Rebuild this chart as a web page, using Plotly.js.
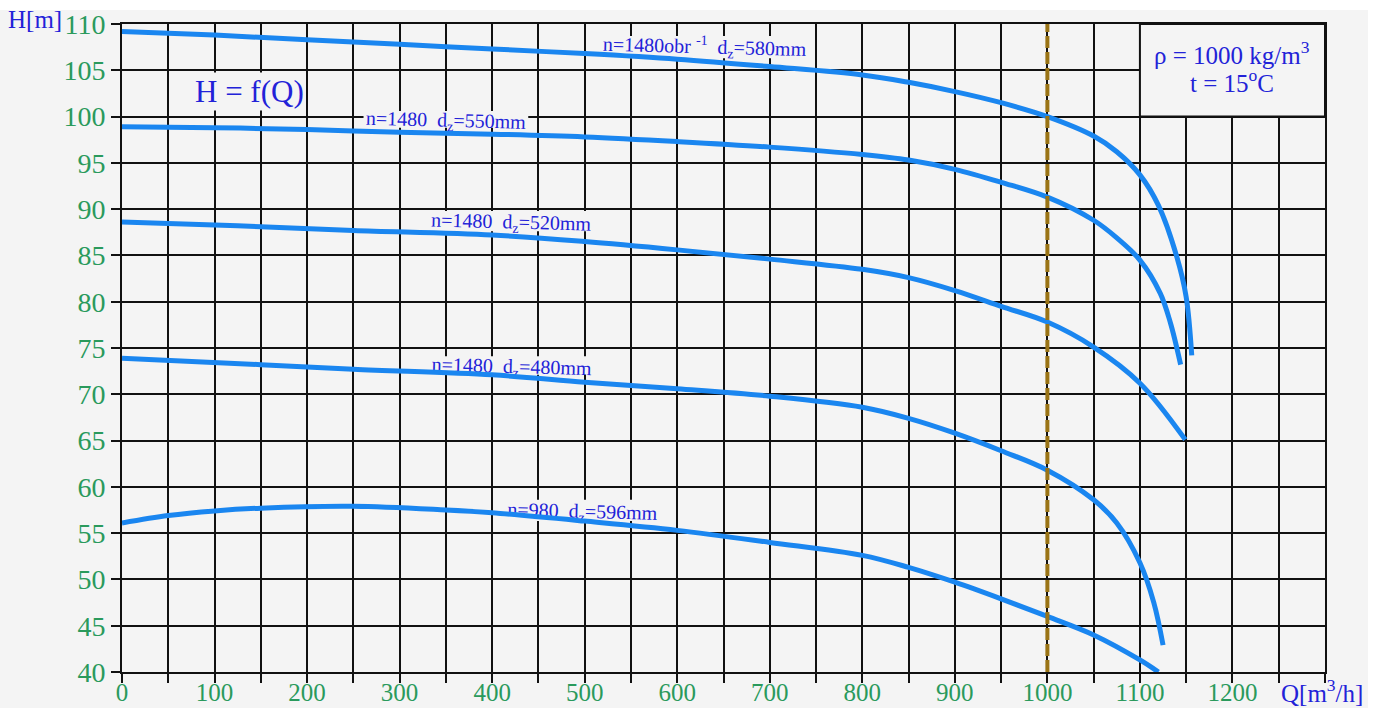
<!DOCTYPE html>
<html>
<head>
<meta charset="utf-8">
<script src="https://cdn.plot.ly/plotly-3.0.1.min.js"></script>
<style>html,body{margin:0;padding:0;background:#fff;}#chart{width:1381px;height:708px;}</style>
</head>
<body>
<div id="chart"></div>
<script>
// Data
var q580 = [0,100,200,300,400,500,600,700,800,850,900,950,1000,1050,1075,1100,1120,1140,1150,1156];
var h580 = [109.2,108.8,108.3,107.8,107.3,106.8,106.2,105.4,104.5,103.7,102.7,101.5,100.0,97.9,96.2,93.7,90.4,84.8,80.5,74.2];
var q550 = [0,100,200,300,400,500,600,700,800,850,900,950,1000,1050,1075,1100,1122,1133,1144];
var h550 = [98.9,98.8,98.6,98.3,98.1,97.8,97.3,96.7,95.9,95.3,94.3,92.9,91.3,88.8,86.9,84.5,80.9,77.7,73.2];
var q520 = [0,100,150,250,400,500,600,700,800,850,900,950,1000,1050,1100,1149];
var h520 = [88.6,88.3,88.1,87.7,87.2,86.5,85.6,84.6,83.5,82.6,81.2,79.5,77.8,75.1,71.2,65.1];
var q480 = [0,150,250,400,500,600,700,800,850,900,950,1000,1050,1075,1100,1115,1125];
var h480 = [73.9,73.2,72.7,72.1,71.3,70.6,69.8,68.6,67.4,65.8,63.9,61.8,58.6,56.1,51.8,47.5,42.9];
var q596 = [0,50,100,150,250,350,400,500,600,700,800,850,900,950,1000,1050,1100,1120];
var h596 = [56.1,56.9,57.4,57.7,57.9,57.5,57.2,56.3,55.3,54.0,52.6,51.3,49.7,47.9,46.0,44.0,41.3,40.0];

var xTickVals = [0,50,100,150,200,250,300,350,400,450,500,550,600,650,700,750,800,850,900,950,1000,1050,1100,1150,1200,1250,1300];
var xTickText = ['0','','100','','200','','300','','400','','500','','600','','700','','800','','900','','1000','','1100','','1200','',''];
var yTickVals = [40,45,50,55,60,65,70,75,80,85,90,95,100,105,110];

// curve labels: text and the area (Q range, H range) they occupy
var labelTexts = ['n=1480obr <sup>-1</sup>  d<sub>z</sub>=580mm', 'n=1480  d<sub>z</sub>=550mm', 'n=1480  d<sub>z</sub>=520mm', 'n=1480  d<sub>z</sub>=480mm', 'n=980  d<sub>z</sub>=596mm'];
var labelQ0 = [519, 261, 333, 333, 416];
var labelQ1 = [740, 439, 508, 509, 579];
var labelH0 = [106.3, 98.8, 87.6, 72.1, 56.3];
var labelH1 = [108.7, 100.6, 89.8, 74.1, 58.6];
var operatingQ = 1000;

var lineStyle = {color: '#1a86f0', width: 5, shape: 'spline', smoothing: 1.0};
function tr(x, y) { return {x: x, y: y, mode: 'lines', line: lineStyle, hoverinfo: 'skip', showlegend: false}; }

var traces = [tr(q580,h580), tr(q550,h550), tr(q520,h520), tr(q480,h480), tr(q596,h596)];
traces.push({x: [operatingQ, operatingQ], y: [40, 110], mode: 'lines',
  line: {color: '#9a7416', width: 4, dash: '12px,4px'}, showlegend: false, hoverinfo: 'skip'});

var serif = 'Liberation Serif, Times New Roman, serif';
var blue = '#2222d8';

var shapes = [
  {type: 'rect', xref: 'paper', yref: 'paper', x0: -122/1203, x1: 1246/1203, y0: -36/648, y1: 1 + 14/648,
    fillcolor: '#f4f4f4', line: {width: 0}, layer: 'below'},
  {type: 'rect', xref: 'x', yref: 'y', x0: 1100, x1: 1300, y0: 100, y1: 110,
    fillcolor: '#f4f4f4', line: {color: '#111', width: 2}, layer: 'above'}
];
for (var i = 0; i < labelTexts.length; i++) {
  shapes.push({type: 'rect', xref: 'x', yref: 'y', x0: labelQ0[i], x1: labelQ1[i], y0: labelH0[i], y1: labelH1[i],
    fillcolor: '#f4f4f4', line: {width: 0}, layer: 'between',
    label: {text: labelTexts[i], textposition: 'middle center', textangle: 1.5,
      font: {family: serif, size: 20, color: blue}}});
}

var annots = [];
annots.push({x: 138, y: 102.7, xref: 'x', yref: 'y', text: 'H = f(Q)', showarrow: false,
  font: {family: serif, size: 31, color: blue}, bgcolor: '#f4f4f4', borderpad: 1});
annots.push({x: 1200, y: 106.85, xref: 'x', yref: 'y', text: 'ρ = 1000 kg/m<sup>3</sup>', showarrow: false,
  font: {family: serif, size: 25, color: blue}});
annots.push({x: 1200, y: 103.8, xref: 'x', yref: 'y', text: 't = 15<sup>o</sup>C', showarrow: false,
  font: {family: serif, size: 25, color: blue}});
annots.push({x: -87/1203, y: 1 + 4/648, xref: 'paper', yref: 'paper', xanchor: 'center', yanchor: 'middle', text: 'H[m]', showarrow: false,
  font: {family: serif, size: 25, color: blue}});
annots.push({x: 1200/1203, y: -19/648, xref: 'paper', yref: 'paper', xanchor: 'center', yanchor: 'middle', text: 'Q[m<sup>3</sup>/h]', showarrow: false,
  font: {family: serif, size: 25, color: blue}});

var layout = {
  width: 1381, height: 708,
  margin: {l: 122, r: 56, t: 24, b: 36},
  paper_bgcolor: '#ffffff',
  plot_bgcolor: '#f4f4f4',
  xaxis: {range: [0, 1300], tickvals: xTickVals, ticktext: xTickText, showgrid: true,
    gridcolor: '#111', gridwidth: 2, ticks: 'outside', ticklen: 9, tickwidth: 2, tickcolor: '#111',
    showline: true, linecolor: '#111', linewidth: 2, mirror: true, zeroline: false, ticklabelstandoff: -12,
    tickfont: {family: serif, size: 25, color: '#2a9a5c'}, fixedrange: true},
  yaxis: {range: [40, 110], tickvals: yTickVals, showgrid: true,
    gridcolor: '#111', gridwidth: 2, ticks: 'outside', ticklen: 9, tickwidth: 2, tickcolor: '#111',
    showline: true, linecolor: '#111', linewidth: 2, mirror: true, zeroline: false,
    tickfont: {family: serif, size: 28, color: '#2a9a5c'}, fixedrange: true},
  shapes: shapes,
  annotations: annots,
  showlegend: false
};

Plotly.newPlot('chart', traces, layout, {displayModeBar: false, staticPlot: true});
</script>
</body>
</html>
